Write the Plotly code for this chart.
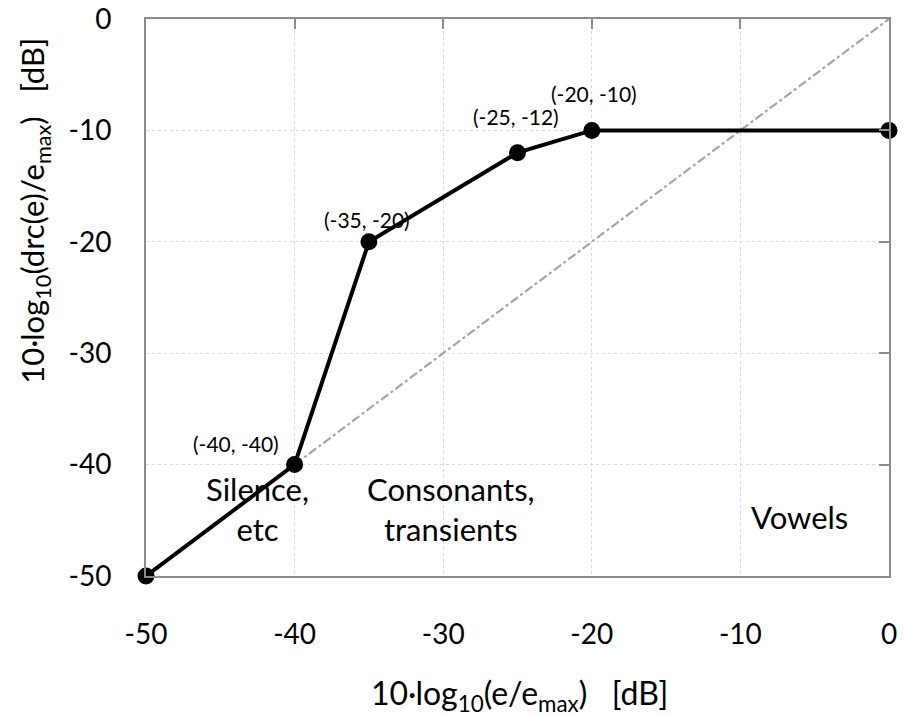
import plotly.graph_objects as go

x_vals = [-50, -40, -35, -25, -20, 0]
y_vals = [-50, -40, -20, -12, -10, -10]
diag_x = [-40, 0]
diag_y = [-40, 0]
point_labels = ["(-40, -40)", "(-35, -20)", "(-25, -12)", "(-20, -10)"]
label_pts_x = [-40, -35, -25, -20]
label_pts_y = [-40, -20, -12, -10]
region_texts = ["Silence,<br>etc", "Consonants,<br>transients", "Vowels"]
tick_vals = [-50, -40, -30, -20, -10, 0]
tick_text = ["-50", "-40", "-30", "-20", "-10", "0"]
x_title = "10·log<sub>10</sub>(e/e<sub>max</sub>)   [dB]"
y_title = "10·log<sub>10</sub>(drc(e)/e<sub>max</sub>)   [dB]"

FONT = "Lato"
grid_col = "#d9d9d9"
frame_col = "#8c8c8c"

# placement (pixels / data positions)
label_dx = [-14, -2, -2, 2]
label_dy = [21, 22, 36, 37]
region_x = [-42.5, -29.5, -6.0]
region_y = [-44.0, -44.0, -44.7]

fig = go.Figure()
fig.add_trace(go.Scatter(x=diag_x, y=diag_y, mode="lines",
                         line=dict(color="#a6a6a6", width=2.2, dash="dashdot"),
                         hoverinfo="skip", showlegend=False))
fig.add_trace(go.Scatter(x=x_vals, y=y_vals, mode="lines+markers",
                         line=dict(color="black", width=4),
                         marker=dict(color="black", size=17),
                         cliponaxis=False, showlegend=False))

for t, px, py, dx, dy in zip(point_labels, label_pts_x, label_pts_y, label_dx, label_dy):
    fig.add_annotation(x=px, y=py, text=t, showarrow=False, xshift=dx, yshift=dy,
                       xanchor="right" if px == -40 else "center",
                       font=dict(family=FONT, size=21, color="black"))

for t, px, py in zip(region_texts, region_x, region_y):
    fig.add_annotation(x=px, y=py, text=t, showarrow=False,
                       font=dict(family=FONT, size=31, color="black"))

fig.add_annotation(xref="paper", yref="paper", x=0.503, y=-0.213, yanchor="middle",
                   text=x_title, showarrow=False,
                   font=dict(family=FONT, size=32, color="black"))
fig.add_annotation(xref="paper", yref="paper", x=-0.15, y=0.655, xanchor="center", yanchor="middle",
                   text=y_title, showarrow=False, textangle=-90,
                   font=dict(family=FONT, size=31, color="black"))

axis_common = dict(showgrid=True, gridcolor=grid_col, griddash="dot", gridwidth=1,
                   zeroline=False, showline=True, linecolor=frame_col, linewidth=2,
                   tickfont=dict(family=FONT, size=28, color="black"), ticks="",
                   automargin=False, range=[-50, 0], tickvals=tick_vals, ticktext=tick_text)

fig.update_layout(
    width=904, height=717,
    margin=dict(l=146, r=15, t=19, b=141),
    paper_bgcolor="white", plot_bgcolor="white",
    xaxis=dict(ticklabelstandoff=32, **axis_common),
    yaxis=dict(ticklabelstandoff=27, **axis_common),
    xaxis2=dict(range=[-50, 0], tickvals=tick_vals, overlaying="x", side="top", automargin=False,
                showticklabels=False, ticks="inside", ticklen=10, tickwidth=2, tickcolor=frame_col,
                showgrid=False, zeroline=False, showline=True, linecolor=frame_col, linewidth=2),
    yaxis2=dict(range=[-50, 0], tickvals=tick_vals, overlaying="y", side="right", automargin=False,
                showticklabels=False, ticks="inside", ticklen=10, tickwidth=2, tickcolor=frame_col,
                showgrid=False, zeroline=False, showline=True, linecolor=frame_col, linewidth=2),
)
fig.add_trace(go.Scatter(x=[None], y=[None], xaxis="x2", yaxis="y2", showlegend=False, hoverinfo="skip"))

fig.write_html("out.html")
